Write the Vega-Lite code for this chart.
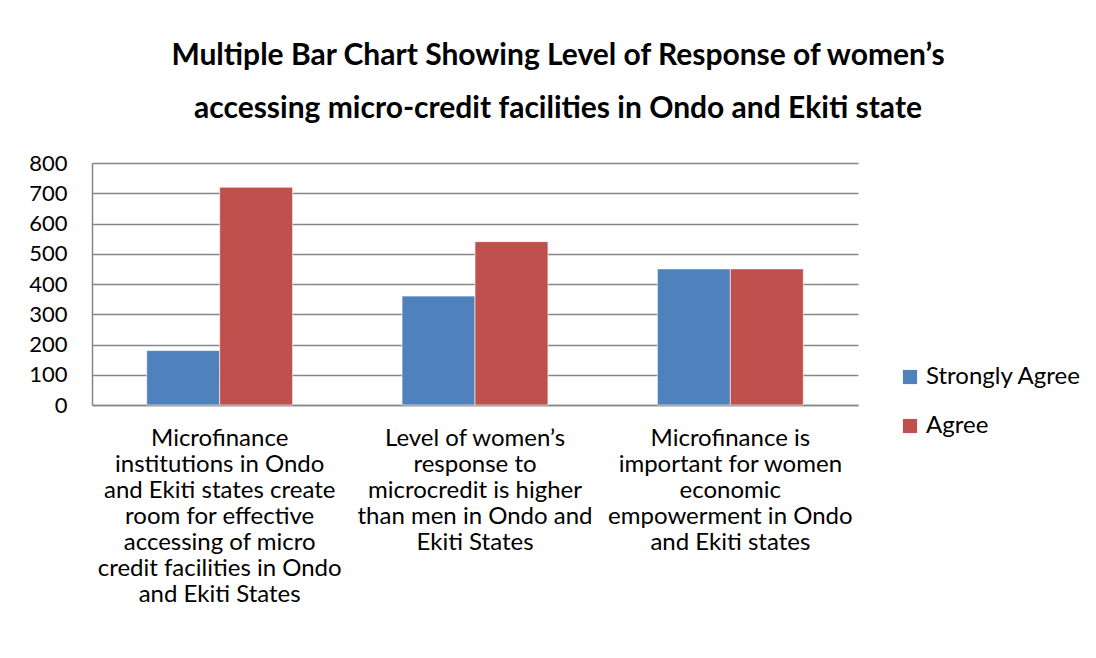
{
  "$schema": "https://vega.github.io/schema/vega-lite/v6.json",
  "autosize": "none",
  "width": 766,
  "height": 242,
  "padding": {"left": 92, "top": 163, "right": 238, "bottom": 253},
  "background": "white",
  "title": {
    "text": ["Multiple Bar Chart Showing Level of Response of women’s", "accessing micro-credit facilities in Ondo and Ekiti state"],
    "anchor": "middle",
    "frame": "group",
    "dx": 83,
    "offset": 28,
    "font": "Lato",
    "fontSize": 30,
    "fontWeight": "bold",
    "color": "black",
    "lineHeight": 53
  },
  "data": {
    "values": [
      {"statement": "Microfinance institutions in Ondo and Ekiti states create room for effective accessing of micro credit facilities in Ondo and Ekiti States", "response": "Strongly Agree", "count": 180},
      {"statement": "Microfinance institutions in Ondo and Ekiti states create room for effective accessing of micro credit facilities in Ondo and Ekiti States", "response": "Agree", "count": 720},
      {"statement": "Level of women’s response to microcredit is higher than men in Ondo and Ekiti States", "response": "Strongly Agree", "count": 360},
      {"statement": "Level of women’s response to microcredit is higher than men in Ondo and Ekiti States", "response": "Agree", "count": 540},
      {"statement": "Microfinance is important for women economic empowerment in Ondo and Ekiti states", "response": "Strongly Agree", "count": 450},
      {"statement": "Microfinance is important for women economic empowerment in Ondo and Ekiti states", "response": "Agree", "count": 450}
    ]
  },
  "mark": {"type": "bar", "stroke": "white", "strokeWidth": 0.6},
  "encoding": {
    "x": {
      "field": "statement",
      "type": "nominal",
      "sort": null,
      "title": null,
      "scale": {"paddingInner": 0, "paddingOuter": 0},
      "axis": {
        "labelAngle": 0,
        "labelFont": "Lato",
        "labelFontSize": 24,
        "labelColor": "black",
        "labelLineHeight": 26,
        "labelPadding": 21,
        "labelBaseline": "top",
        "labelLimit": 0,
        "ticks": false,
        "domainColor": "#868686",
        "domainWidth": 1.5,
        "labelExpr": "indexof(datum.value, 'Microfinance institutions') == 0 ? ['Microfinance', 'institutions in Ondo', 'and Ekiti states create', 'room for effective', 'accessing of micro', 'credit facilities in Ondo', 'and Ekiti States'] : indexof(datum.value, 'Level') == 0 ? ['Level of women’s', 'response to', 'microcredit is higher', 'than men in Ondo and', 'Ekiti States'] : ['Microfinance is', 'important for women', 'economic', 'empowerment in Ondo', 'and Ekiti states']"
      }
    },
    "xOffset": {
      "field": "response",
      "type": "nominal",
      "sort": ["Strongly Agree", "Agree"],
      "scale": {"paddingInner": 0, "paddingOuter": 0.75}
    },
    "y": {
      "field": "count",
      "type": "quantitative",
      "title": null,
      "scale": {"domain": [0, 800], "nice": false},
      "axis": {
        "values": [0, 100, 200, 300, 400, 500, 600, 700, 800],
        "labelFont": "Lato",
        "labelFontSize": 22,
        "labelColor": "black",
        "labelPadding": 25,
        "ticks": false,
        "domain": true,
        "domainColor": "#868686",
        "domainWidth": 1.5,
        "grid": true,
        "gridColor": "#868686",
        "gridWidth": 1.5
      }
    },
    "color": {
      "field": "response",
      "type": "nominal",
      "sort": ["Strongly Agree", "Agree"],
      "scale": {"domain": ["Strongly Agree", "Agree"], "range": ["#4F81BD", "#C0504D"]},
      "legend": {
        "title": null,
        "orient": "none",
        "legendX": 806,
        "legendY": 202,
        "symbolType": "square",
        "symbolSize": 200,
        "symbolStrokeWidth": 0,
        "labelFont": "Lato",
        "labelFontSize": 24,
        "labelColor": "black",
        "labelOffset": 4,
        "labelLimit": 0,
        "rowPadding": 25
      }
    }
  },
  "config": {
    "view": {"stroke": null}
  }
}
